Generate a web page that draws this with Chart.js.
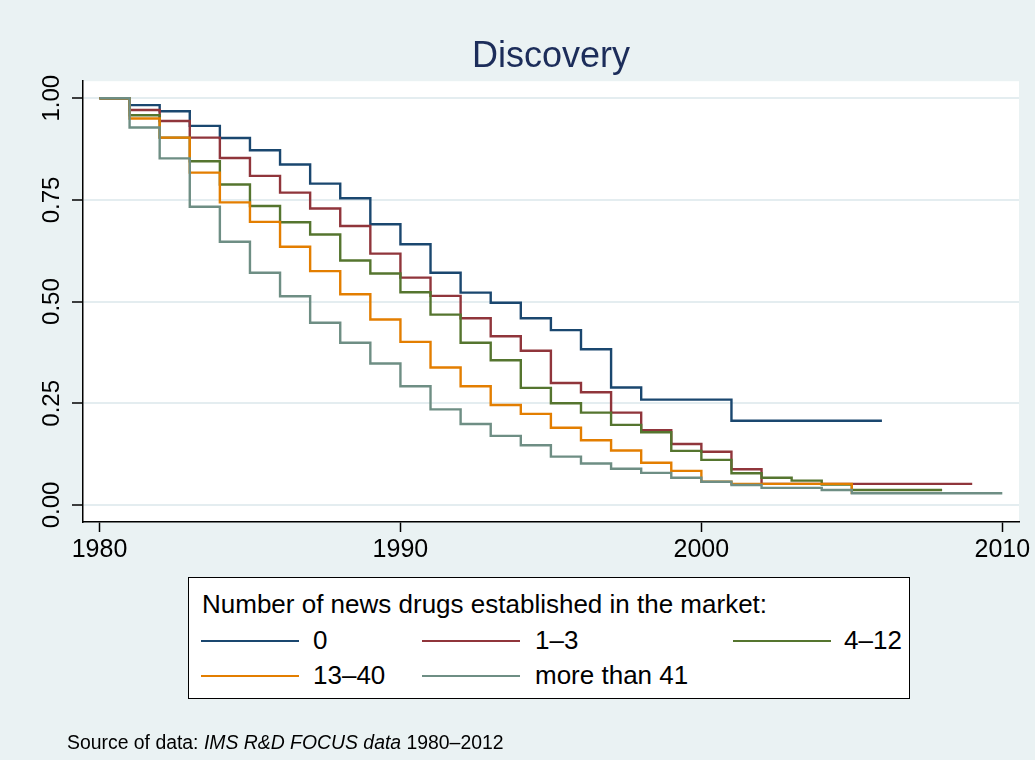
<!DOCTYPE html>
<html>
<head>
<meta charset="utf-8">
<script src="https://cdn.jsdelivr.net/npm/chart.js@4.4.1/dist/chart.umd.min.js"></script>
<style>
  html, body { margin: 0; padding: 0; background: #eaf2f3; }
  body { width: 1035px; height: 760px; position: relative; overflow: hidden;
         font-family: "Liberation Sans", Arial, sans-serif; color: #000; }
  #wrap { position: absolute; left: 0; top: 0; width: 1035px; height: 760px; }
  #legend { position: absolute; left: 188px; top: 577px; width: 722px; height: 122px;
            border: 1.5px solid #000; background: #fff; box-sizing: border-box; }
  .lg { position: absolute; font-size: 26px; line-height: 30px; white-space: nowrap; }
  .key { position: absolute; height: 2px; width: 98px; }
  #caption { position: absolute; left: 67px; top: 731px; font-size: 19.4px; line-height: 22px; white-space: nowrap; }
</style>
</head>
<body>
<div id="wrap"><canvas id="chartDiscovery" width="1035" height="760"></canvas></div>
<div id="legend"></div>
<div id="caption">Source of data: <i>IMS R&amp;D FOCUS data</i> 1980&ndash;2012</div>
<script>
'use strict';

// survival estimates, one value per year starting 1980
const years = [1980, 1981, 1982, 1983, 1984, 1985, 1986, 1987, 1988, 1989,
  1990, 1991, 1992, 1993, 1994, 1995, 1996, 1997, 1998, 1999,
  2000, 2001, 2002, 2003, 2004, 2005, 2006, 2007, 2008, 2009, 2010];

const seriesLabels = ['0', '1\u20133', '4\u201312', '13\u201340', 'more than 41'];
const seriesColors = ['#1a476f', '#90353b', '#55752f', '#e37e00', '#6e8e84'];

const drugs0 = [1, .983, .968, .932, .902, .872, .837, .790, .754, .690,
  .641, .571, .522, .497, .459, .430, .383, .289, .259, .259,
  .259, .207, .207, .207, .207, .207, .207];
const drugs1to3 = [1, .971, .944, .903, .853, .809, .768, .729, .686, .618,
  .559, .514, .459, .415, .379, .300, .277, .227, .184, .150,
  .131, .088, .052, .052, .052, .052, .052, .052, .052, .052];
const drugs4to12 = [1, .958, .903, .845, .788, .735, .695, .665, .601, .569,
  .523, .468, .399, .356, .288, .250, .227, .197, .179, .133,
  .111, .078, .067, .060, .050, .037, .037, .037, .037];
const drugs13to40 = [1, .950, .903, .817, .744, .696, .635, .575, .518, .456,
  .401, .338, .292, .246, .224, .190, .159, .134, .104, .084,
  .057, .052, .052, .052, .052, .027];
const drugs41plus = [1, .928, .852, .733, .647, .571, .513, .448, .399, .348,
  .292, .235, .199, .170, .147, .119, .102, .089, .079, .067,
  .057, .049, .042, .042, .037, .029, .029, .029, .029, .029, .029];

const xTicks = [1980, 1990, 2000, 2010];
const yTicks = [0, 0.25, 0.5, 0.75, 1];
const yTickLabels = ['0.00', '0.25', '0.50', '0.75', '1.00'];

const FONT = '"Liberation Sans", Arial, sans-serif';
const allSeries = [drugs0, drugs1to3, drugs4to12, drugs13to40, drugs41plus];

// white plot region behind the curves
const plotBg = {
  id: 'plotBg',
  beforeDraw(chart) {
    const { ctx, chartArea: a } = chart;
    ctx.save();
    ctx.fillStyle = '#fff';
    ctx.fillRect(a.left, a.top, a.right - a.left, a.bottom - a.top);
    ctx.restore();
  }
};

// Stata-style vertical tick labels on the y axis
const yLabels = {
  id: 'yLabels',
  afterDraw(chart) {
    const { ctx } = chart;
    const s = chart.scales.y;
    ctx.save();
    ctx.font = '24px ' + FONT;
    ctx.fillStyle = '#000';
    ctx.textAlign = 'center';
    ctx.textBaseline = 'alphabetic';
    yTicks.forEach((v, i) => {
      ctx.save();
      ctx.translate(59, s.getPixelForValue(v));
      ctx.rotate(-Math.PI / 2);
      ctx.fillText(yTickLabels[i], 0, 0);
      ctx.restore();
    });
    ctx.restore();
  }
};

const ctx = document.getElementById('chartDiscovery');
new Chart(ctx, {
  type: 'line',
  data: {
    datasets: allSeries.map((vals, i) => ({
      label: seriesLabels[i],
      data: vals.map((v, k) => ({ x: years[k], y: v })),
      borderColor: seriesColors[i],
      borderWidth: 2.4,
      stepped: true,
      pointRadius: 0,
      fill: false,
      order: allSeries.length - i
    }))
  },
  options: {
    responsive: false,
    animation: false,
    layout: { padding: { left: 0, right: 16, top: 0, bottom: 0 } },
    plugins: {
      legend: { display: false },
      tooltip: { enabled: false },
      title: {
        display: true,
        fullSize: false,
        text: 'Discovery',
        color: '#1c2d5a',
        font: { size: 36, family: FONT, weight: 'normal' },
        padding: { top: 35, bottom: 3 }
      }
    },
    scales: {
      x: {
        type: 'linear',
        min: 1979.452,
        max: 2010.555,
        afterBuildTicks: s => { s.ticks = xTicks.map(v => ({ value: v })); },
        afterFit: s => { s.height = 238; },
        ticks: {
          callback: v => String(v),
          color: '#000',
          font: { size: 25, family: FONT },
          padding: 3,
          maxRotation: 0,
          autoSkip: false
        },
        grid: { drawOnChartArea: false, drawTicks: true, tickLength: 10, tickColor: '#000', tickWidth: 1.5 },
        border: { color: '#000', width: 1.5 }
      },
      y: {
        min: -0.0418,
        max: 1.0418,
        afterBuildTicks: s => { s.ticks = yTicks.map(v => ({ value: v })); },
        afterFit: s => { s.width = 83; },
        ticks: { display: false },
        grid: { color: '#e4edf0', lineWidth: 2, drawTicks: true, tickLength: 11, tickColor: '#000', tickWidth: 1.5 },
        border: { color: '#000', width: 1.5 }
      }
    }
  },
  plugins: [plotBg, yLabels]
});

// legend box (Stata puts a boxed legend below the plot)
const legend = document.getElementById('legend');
const addText = (txt, left, top) => {
  const d = document.createElement('div');
  d.className = 'lg';
  d.textContent = txt;
  d.style.left = left + 'px';
  d.style.top = top + 'px';
  legend.appendChild(d);
};
addText('Number of news drugs established in the market:', 13, 11);
const keyCols = [12, 233, 544];
const textCols = [124, 346, 655];
const rowMid = [63, 98];
seriesLabels.forEach((lab, i) => {
  const r = Math.floor(i / 3), c = i % 3;
  const k = document.createElement('div');
  k.className = 'key';
  k.style.background = seriesColors[i];
  k.style.left = keyCols[c] + 'px';
  k.style.top = (rowMid[r] - 1) + 'px';
  legend.appendChild(k);
  addText(lab, textCols[c], rowMid[r] - 16);
});
</script>
</body>
</html>
